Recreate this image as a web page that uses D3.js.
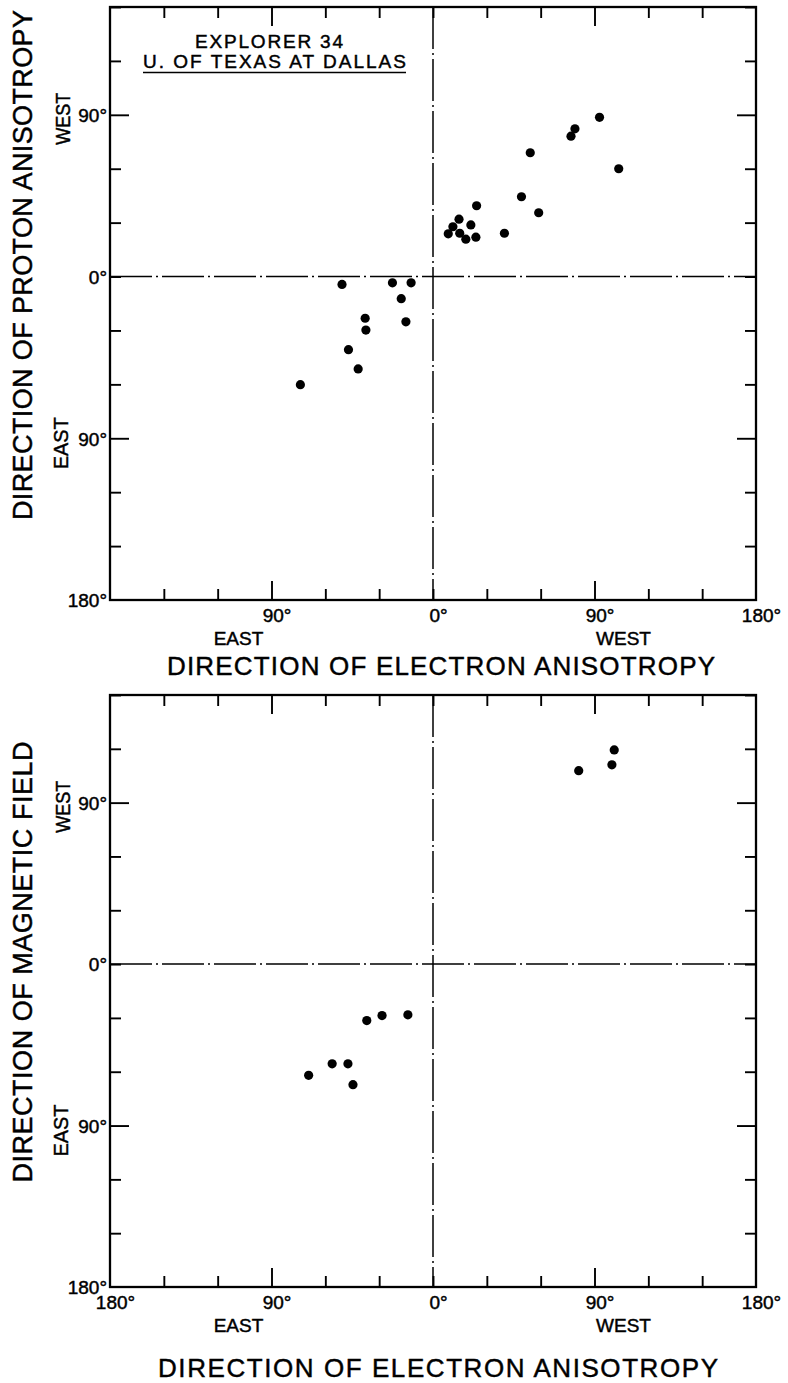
<!DOCTYPE html>
<html>
<head>
<meta charset="utf-8">
<script src="https://cdn.jsdelivr.net/npm/d3@7"></script>
<style>
  html, body { margin: 0; padding: 0; background: #fff; }
  svg { display: block; }
  text { font-family: "Liberation Sans", Arial, sans-serif; fill: #000; stroke: #000; stroke-width: 0.45px; }
</style>
</head>
<body>
<svg id="chart" width="788" height="1383"></svg>
<script>
// Upper panel: electron anisotropy direction vs proton anisotropy direction (degrees, West positive)
const protonElectronDir = [92.8, 79.1, 76.9, 54.2, 103.5, 49.3, 58.9, 24.3, 39.8, 14.5, 21.1, 11.1, 8.5, 14.9, 18.3, 23.9,
                           -50.7, -22.6, -12.2, -17.7, -15.1, -37.8, -37.4, -47.1, -41.7, -73.9];
const protonDir = [88.6, 82.2, 78.1, 68.9, 60.0, 44.4, 35.5, 39.4, 24.1, 31.9, 28.7, 27.7, 23.8, 24.1, 20.8, 21.9,
                   -4.4, -3.5, -3.5, -12.3, -25.2, -23.2, -29.8, -40.7, -51.4, -60.2];

// Lower panel: electron anisotropy direction vs magnetic field direction
const fieldElectronDir = [101.0, 99.7, 81.2, -36.9, -28.4, -14.0, -56.2, -47.4, -69.3, -44.6];
const fieldDir = [119.4, 111.1, 107.8, -31.5, -28.7, -28.3, -55.6, -55.6, -62.0, -67.2];

// Tick positions (every 30 degrees) and the labelled ones
const xTickValues = d3.range(-180, 181, 30);
const yTickValues = d3.range(-180, 151, 30);
const majorTicks = [-90, 90];
const yTickLabels = { "90": "90°", "0": "0°", "-90": "90°", "-180": "180°" };
const xTickLabelsUpper = { "-90": "90°", "0": "0°", "90": "90°", "180": "180°" };
const xTickLabelsLower = { "-180": "180°", "-90": "90°", "0": "0°", "90": "90°", "180": "180°" };

const svg = d3.select("#chart");
const LEFT = 110, RIGHT = 756;
const MINOR = 11, MAJOR = 19;

function panel(opts) {
  const x = d3.scaleLinear().domain([-180, 180]).range([LEFT, RIGHT]);
  const y = d3.scaleLinear().domain([150, -180]).range([opts.top, opts.bottom]);
  const g = svg.append("g");

  // thin the axis output down to tick marks; the ±90° marks are drawn longer
  const fixTicks = (sel, vertical) => {
    sel.select(".domain").remove();
    sel.selectAll(".tick line")
      .attr("stroke", "#000").attr("stroke-width", 1.9)
      .each(function (d) {
        const line = d3.select(this);
        const attr = vertical ? "x2" : "y2";
        const cur = +line.attr(attr);
        if (majorTicks.includes(d)) line.attr(attr, Math.sign(cur) * MAJOR);
        if (Math.abs(d) === 180) line.remove();
      });
    sel.selectAll(".tick text").style("font-size", "19px");
  };

  // bottom axis with labels
  const bx = g.append("g").attr("transform", `translate(0,${opts.bottom})`)
    .call(d3.axisBottom(x).tickValues(xTickValues).tickSizeInner(-MINOR).tickSizeOuter(0).tickPadding(9)
      .tickFormat(d => opts.xLabels[d] || ""));
  fixTicks(bx, false);
  bx.selectAll(".tick text").attr("dx", 5);

  // top axis, ticks only
  const tx = g.append("g").attr("transform", `translate(0,${opts.top})`)
    .call(d3.axisTop(x).tickValues(xTickValues).tickSizeInner(-MINOR).tickSizeOuter(0).tickFormat(""));
  fixTicks(tx, false);

  // left axis with labels
  const ly = g.append("g").attr("transform", `translate(${LEFT},0)`)
    .call(d3.axisLeft(y).tickValues(yTickValues).tickSizeInner(-MINOR).tickSizeOuter(0).tickPadding(3)
      .tickFormat(d => yTickLabels[d] || ""));
  fixTicks(ly, true);
  ly.selectAll(".tick text").attr("dy", "0.36em");

  // right axis, ticks only
  const ry = g.append("g").attr("transform", `translate(${RIGHT},0)`)
    .call(d3.axisRight(y).tickValues(yTickValues).tickSizeInner(-MINOR).tickSizeOuter(0).tickFormat(""));
  fixTicks(ry, true);

  // frame
  g.append("rect")
    .attr("x", LEFT).attr("y", opts.top)
    .attr("width", RIGHT - LEFT).attr("height", opts.bottom - opts.top)
    .attr("fill", "none").attr("stroke", "#000").attr("stroke-width", 2.3);

  // dash-dot zero lines
  g.append("line")
    .attr("x1", x(0)).attr("x2", x(0)).attr("y1", opts.top).attr("y2", opts.bottom)
    .attr("stroke", "#000").attr("stroke-width", 1.5).attr("stroke-dasharray", "42,4,2,4");
  g.append("line")
    .attr("x1", LEFT).attr("x2", RIGHT).attr("y1", y(0)).attr("y2", y(0))
    .attr("stroke", "#000").attr("stroke-width", 1.5).attr("stroke-dasharray", "42,4,2,4");

  // points
  g.append("g").selectAll("circle")
    .data(opts.xs.map((v, i) => [v, opts.ys[i]]))
    .join("circle")
    .attr("cx", d => x(d[0])).attr("cy", d => y(d[1])).attr("r", 4.6).attr("fill", "#000");

  // direction words along the axes
  g.append("text").attr("x", x(-90) - 33).attr("y", opts.bottom + 45)
    .attr("text-anchor", "middle").style("font-size", "19px").text("EAST");
  g.append("text").attr("x", x(90) + 29).attr("y", opts.bottom + 45)
    .attr("text-anchor", "middle").style("font-size", "19px").text("WEST");
  g.append("text")
    .attr("transform", `translate(70,${y(90) + 4}) rotate(-90)`)
    .attr("text-anchor", "middle").style("font-size", "21px")
    .attr("textLength", 52).attr("lengthAdjust", "spacingAndGlyphs").text("WEST");
  g.append("text")
    .attr("transform", `translate(68,${y(-90) + 5}) rotate(-90)`)
    .attr("text-anchor", "middle").style("font-size", "21px")
    .attr("textLength", 52).attr("lengthAdjust", "spacingAndGlyphs").text("EAST");

  // axis titles
  g.append("text")
    .attr("x", opts.xTitleX).attr("y", opts.xTitleY)
    .attr("text-anchor", "middle").style("font-size", "26px")
    .attr("textLength", opts.xTitleLen).attr("lengthAdjust", "spacing")
    .text("DIRECTION OF ELECTRON ANISOTROPY");
  g.append("text")
    .attr("transform", `translate(32,${opts.yTitleY}) rotate(-90)`)
    .attr("text-anchor", "middle").style("font-size", "27px")
    .attr("textLength", opts.yTitleLen).attr("lengthAdjust", "spacing")
    .text(opts.yTitle);
  return g;
}

const upper = panel({
  top: 7, bottom: 600,
  xs: protonElectronDir, ys: protonDir,
  xLabels: xTickLabelsUpper,
  xTitleX: 441, xTitleY: 675, xTitleLen: 548,
  yTitle: "DIRECTION OF PROTON ANISOTROPY", yTitleY: 265, yTitleLen: 510
});

panel({
  top: 695, bottom: 1287,
  xs: fieldElectronDir, ys: fieldDir,
  xLabels: xTickLabelsLower,
  xTitleX: 438, xTitleY: 1377, xTitleLen: 560,
  yTitle: "DIRECTION OF MAGNETIC FIELD", yTitleY: 962, yTitleLen: 441
});

// instrument note in the upper panel
upper.append("text").attr("x", 269).attr("y", 48)
  .attr("text-anchor", "middle").style("font-size", "19px")
  .attr("textLength", 148).attr("lengthAdjust", "spacing").text("EXPLORER 34");
upper.append("text").attr("x", 143).attr("y", 68)
  .style("font-size", "19px")
  .attr("textLength", 263).attr("lengthAdjust", "spacing").text("U. OF TEXAS AT DALLAS");
upper.append("line").attr("x1", 143).attr("x2", 406).attr("y1", 72.5).attr("y2", 72.5)
  .attr("stroke", "#000").attr("stroke-width", 1.6);
</script>
</body>
</html>
